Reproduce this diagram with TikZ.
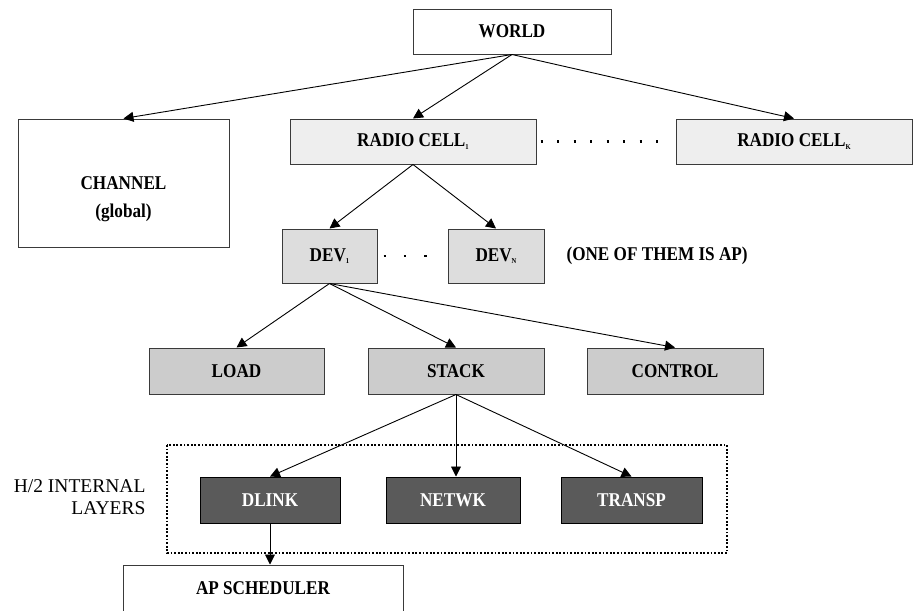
\documentclass[tikz,border=0pt]{standalone}
\usepackage{fontspec}
\setmainfont{Liberation Serif}
\newfontfamily\condbold[FakeStretch=0.88]{Liberation Serif Bold}
\usetikzlibrary{arrows.meta}
\definecolor{boxline}{HTML}{3A3A3A}
\definecolor{cellfill}{HTML}{EEEEEE}
\definecolor{devfill}{HTML}{DDDDDD}
\definecolor{midfill}{HTML}{CCCCCC}
\definecolor{darkfill}{HTML}{5A5A5A}
\newcommand{\sbs}[1]{\raisebox{-0.12em}{\fontsize{7.5}{7.5}\selectfont #1}}
\begin{document}
\begin{tikzpicture}[x=1pt,y=-1pt,
  boxfont/.style={font=\fontsize{19.5}{22}\condbold},
  box/.style={draw=boxline,line width=1pt,rectangle,inner sep=0pt,boxfont,align=center},
  whitebox/.style={box,fill=white},
  cellbox/.style={box,fill=cellfill},
  devbox/.style={box,fill=devfill},
  midbox/.style={box,fill=midfill},
  darkbox/.style={box,fill=darkfill,draw=black,text=white},
  arr/.style={line width=0.9pt,-{Triangle[length=10pt,width=10pt]}},
  dotsline/.style={line width=2.2pt,dash pattern=on 2.2pt off 14.3pt},
  frame/.style={line width=1.8pt,dash pattern=on 1.8pt off 1.8pt}]
\useasboundingbox (0,0) rectangle (914,611);
\node[whitebox,minimum width=198pt,minimum height=45pt] (world) at (512,31.5) {WORLD};
\node[cellbox,minimum width=246pt,minimum height=45pt] (rc1) at (413,141.5) {RADIO CELL\sbs{1}};
\node[cellbox,minimum width=236pt,minimum height=45pt] (rck) at (794,141.5) {RADIO CELL\sbs{K}};
\node[whitebox,minimum width=211pt,minimum height=128pt] (chan) at (123.5,183) {};
\node[boxfont,align=center,inner sep=0pt] (chanlabel) at (123.5,199) {CHANNEL\\[6pt](global)};
\node[devbox,minimum width=95pt,minimum height=54pt] (dev1) at (329.5,256) {DEV\sbs{1}};
\node[devbox,minimum width=96pt,minimum height=54pt] (devn) at (496,256) {DEV\sbs{N}};
\node[anchor=west,boxfont] (note) at (563,256) {(ONE OF THEM IS AP)};
\node[midbox,minimum width=175pt,minimum height=46pt] (load) at (236.5,371) {LOAD};
\node[midbox,minimum width=176pt,minimum height=46pt] (stack) at (456,371) {STACK};
\node[midbox,minimum width=176pt,minimum height=46pt] (control) at (675,371) {CONTROL};
\draw[frame] (167,445) rectangle (727,553);
\node[darkbox,minimum width=140pt,minimum height=46pt] (dlink) at (270,500) {DLINK};
\node[darkbox,minimum width=134pt,minimum height=46pt] (netwk) at (453,500) {NETWK};
\node[darkbox,minimum width=141pt,minimum height=46pt] (transp) at (631.5,500) {TRANSP};
\node[whitebox,minimum width=280pt,minimum height=46pt] (ap) at (263,588) {AP SCHEDULER};
\node[anchor=east,align=right,font=\fontsize{19.5}{22}\selectfont] (h2) at (149,497) {H/2 INTERNAL\\LAYERS};
% connectors
\draw[arr] (world.south) -- (chan.north);
\draw[arr] (world.south) -- (rc1.north);
\draw[arr] (world.south) -- (rck.north);
\draw[arr] (rc1.south) -- (dev1.north);
\draw[arr] (rc1.south) -- (devn.north);
\draw[arr] (dev1.south) -- (load.north);
\draw[arr] (dev1.south) -- (stack.north);
\draw[arr] (dev1.south) -- (control.north);
\draw[arr] (stack.south) -- (dlink.north);
\draw[arr] (stack.south) -- (stack.south |- netwk.north);
\draw[arr] (stack.south) -- (transp.north);
\draw[arr] (dlink.south) -- (dlink.south |- ap.north);
% dots
\draw[dotsline] ([xshift=4pt]rc1.east) -- ([xshift=-18pt]rck.west);
\draw[line width=2.4pt,dash pattern=on 2.4pt off 18pt] ([xshift=6pt]dev1.east) -- ([xshift=-20pt]devn.west);
\end{tikzpicture}
\end{document}
